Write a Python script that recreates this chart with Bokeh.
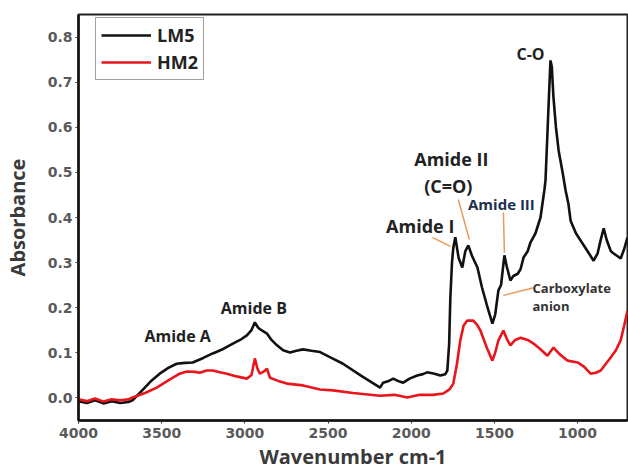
from bokeh.plotting import figure
from bokeh.models import Range1d, FixedTicker, PrintfTickFormatter, Label, Legend, LegendItem
from bokeh.embed import file_html
from bokeh.resources import INLINE

# ---- data ----
lm5_wn = [4000, 3950, 3900, 3850, 3800, 3750, 3700, 3675, 3620, 3560, 3512, 3460, 3410, 3360,
          3313, 3250, 3193, 3130, 3072, 3020, 2988, 2960, 2940, 2920, 2898, 2867, 2840, 2807,
          2770, 2729, 2690, 2650, 2600, 2548, 2480, 2410, 2300, 2187, 2169, 2140, 2108, 2075,
          2048, 2010, 1964, 1930, 1904, 1860, 1825, 1795, 1783, 1772, 1765, 1755, 1747, 1735,
          1715, 1693, 1675, 1657, 1635, 1602, 1575, 1545, 1512, 1495, 1476, 1460, 1440, 1425,
          1404, 1386, 1360, 1343, 1325, 1300, 1283, 1253, 1223, 1200, 1193, 1182, 1175, 1163,
          1155, 1145, 1130, 1114, 1090, 1072, 1055, 1042, 1010, 982, 940, 904, 880, 860, 843,
          825, 800, 783, 741, 720, 700]
lm5_abs = [-0.008, -0.012, -0.006, -0.013, -0.008, -0.012, -0.010, -0.006, 0.015, 0.038, 0.053,
           0.066, 0.075, 0.077, 0.078, 0.088, 0.098, 0.108, 0.120, 0.130, 0.138, 0.150, 0.167,
           0.155, 0.149, 0.142, 0.128, 0.116, 0.105, 0.100, 0.104, 0.107, 0.104, 0.101, 0.088,
           0.075, 0.048, 0.022, 0.033, 0.036, 0.042, 0.036, 0.033, 0.042, 0.049, 0.052, 0.056,
           0.053, 0.049, 0.052, 0.060, 0.120, 0.220, 0.300, 0.333, 0.356, 0.310, 0.289, 0.325,
           0.338, 0.315, 0.289, 0.245, 0.205, 0.164, 0.185, 0.238, 0.250, 0.316, 0.290, 0.260,
           0.270, 0.275, 0.285, 0.311, 0.325, 0.345, 0.365, 0.400, 0.460, 0.482, 0.580, 0.644,
           0.749, 0.735, 0.667, 0.600, 0.549, 0.500, 0.460, 0.430, 0.393, 0.365, 0.349, 0.325,
           0.304, 0.320, 0.352, 0.376, 0.350, 0.325, 0.320, 0.309, 0.330, 0.356]

hm2_wn = [4000, 3950, 3900, 3850, 3800, 3750, 3700, 3675, 3600, 3530, 3460, 3392, 3349, 3300,
          3271, 3230, 3193, 3150, 3108, 3050, 2988, 2960, 2940, 2925, 2910, 2885, 2867, 2849,
          2800, 2747, 2650, 2548, 2470, 2350, 2187, 2100, 2024, 1950, 1870, 1807, 1770, 1747,
          1725, 1705, 1685, 1663, 1627, 1605, 1584, 1545, 1512, 1495, 1476, 1446, 1425, 1404,
          1375, 1343, 1300, 1265, 1225, 1181, 1145, 1110, 1060, 1000, 960, 922, 890, 861, 830,
          801, 770, 741, 720, 700]
hm2_abs = [-0.004, -0.008, -0.002, -0.009, -0.004, -0.006, -0.004, 0.000, 0.010, 0.022, 0.038,
           0.053, 0.058, 0.057, 0.055, 0.060, 0.060, 0.056, 0.053, 0.047, 0.042, 0.050, 0.087,
           0.065, 0.053, 0.058, 0.064, 0.044, 0.037, 0.031, 0.027, 0.018, 0.016, 0.010, 0.004,
           0.006, 0.000, 0.006, 0.006, 0.009, 0.018, 0.031, 0.075, 0.127, 0.160, 0.171, 0.171,
           0.162, 0.149, 0.110, 0.082, 0.100, 0.127, 0.149, 0.130, 0.116, 0.128, 0.133, 0.128,
           0.120, 0.108, 0.093, 0.111, 0.097, 0.082, 0.078, 0.068, 0.053, 0.055, 0.060, 0.075,
           0.089, 0.105, 0.127, 0.160, 0.193]

series_names = ["LM5", "HM2"]
x_ticks = [4000, 3500, 3000, 2500, 2000, 1500, 1000]
y_ticks = [0.0, 0.1, 0.2, 0.3, 0.4, 0.5, 0.6, 0.7, 0.8]

# annotation texts with anchor positions (wavenumber, absorbance)
ann_text = ["C-O", "Amide II", "(C=O)", "Amide III", "Amide I", "Amide A", "Amide B",
            "Carboxylate", "anion"]
ann_x = [1283, 1759, 1777, 1458, 1946, 3404, 2946, 1271, 1271]
ann_y = [0.764, 0.531, 0.469, 0.429, 0.382, 0.136, 0.200, 0.244, 0.204]
# leader lines (x0, y0) -> (x1, y1)
lead_x0 = [1873, 1717, 1446, 1265]
lead_y0 = [0.356, 0.440, 0.411, 0.244]
lead_x1 = [1765, 1651, 1440, 1446]
lead_y1 = [0.336, 0.351, 0.322, 0.227]

FONT = "Open Sans"
TICK_FONT = "DejaVu Sans"

p = figure(width=628, height=472, output_backend="svg", toolbar_location=None,
           x_range=Range1d(4000, 700), y_range=Range1d(-0.051, 0.851),
           min_border_left=78, min_border_right=1, min_border_top=14, min_border_bottom=52)
p.grid.visible = False
p.outline_line_color = "#222222"
p.outline_line_width = 2
p.background_fill_color = "white"
p.border_fill_color = "white"

for ax in (p.xaxis[0], p.yaxis[0]):
    ax.axis_line_width = 2.5
    ax.axis_line_color = "#111111"
    ax.major_tick_in = 0
    ax.major_tick_out = 3
    ax.major_tick_line_color = "#333333"
    ax.minor_tick_line_color = None
    ax.major_label_text_font = TICK_FONT
    ax.major_label_text_font_style = "bold"
    ax.major_label_text_color = "#5a5a5a"
    ax.axis_label_text_font = FONT
    ax.axis_label_text_font_style = "bold"
    ax.axis_label_text_color = "#3a3a3a"
    ax.axis_label_text_font_size = "20px"

p.xaxis.ticker = FixedTicker(ticks=x_ticks)
p.yaxis.ticker = FixedTicker(ticks=y_ticks)
p.yaxis.formatter = PrintfTickFormatter(format="%.1f")
p.xaxis.major_label_text_font_size = "14px"
p.yaxis.major_label_text_font_size = "14px"
p.xaxis.major_label_standoff = 4
p.yaxis.major_label_standoff = 3
p.xaxis.axis_label = "Wavenumber cm-1"
p.yaxis.axis_label = "Absorbance"
p.xaxis.axis_label_standoff = 2
p.yaxis.axis_label_standoff = 14

r1 = p.line(lm5_wn, lm5_abs, line_color="#111111", line_width=2.6)
r2 = p.line(hm2_wn, hm2_abs, line_color="#e8161c", line_width=2.6)

# leader lines
p.segment(x0=lead_x0, y0=lead_y0, x1=lead_x1, y1=lead_y1, line_color="#e89a5c", line_width=1.5)

styles = [
    dict(size="16px", color="#222222", align="center"),
    dict(size="18px", color="#222222", align="center"),
    dict(size="18px", color="#222222", align="center"),
    dict(size="15px", color="#1c2f4f", align="center"),
    dict(size="18px", color="#222222", align="center"),
    dict(size="16px", color="#222222", align="center"),
    dict(size="16px", color="#222222", align="center"),
    dict(size="13px", color="#333333", align="left"),
    dict(size="13px", color="#333333", align="left"),
]
for t, x, y, s in zip(ann_text, ann_x, ann_y, styles):
    p.add_layout(Label(x=x, y=y, text=t, text_font=FONT, text_font_style="bold",
                       text_font_size=s["size"], text_color=s["color"],
                       text_align=s["align"], text_baseline="middle"))

legend = Legend(items=[LegendItem(label=series_names[0], renderers=[r1]),
                       LegendItem(label=series_names[1], renderers=[r2])],
                location=(17, 340), orientation="vertical",
                glyph_width=50, glyph_height=20, label_height=20,
                spacing=3, padding=5, margin=0, label_standoff=6,
                label_text_font=FONT, label_text_font_style="bold",
                label_text_font_size="18px", label_text_color="#222222",
                border_line_color="#444444", border_line_width=1.2,
                background_fill_alpha=1.0)
p.add_layout(legend, "center")

open("out.html", "w").write(file_html(p, INLINE))
